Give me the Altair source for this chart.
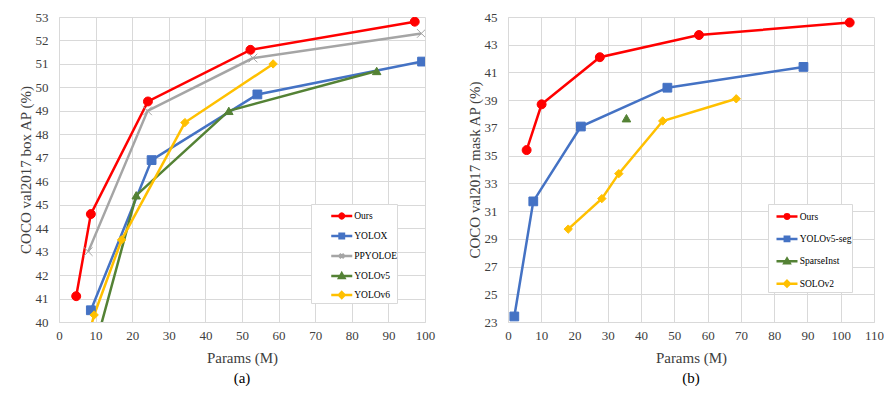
import altair as alt
import pandas as pd

FONT = "Liberation Serif"

# ---------------- (a) box AP ----------------
a_models = ["Ours", "YOLOX", "PPYOLOE", "YOLOv5", "YOLOv6"]
a_colors = ["#FF0000", "#4472C4", "#A5A5A5", "#548235", "#FFC000"]

ours_a_params = [4.7, 8.7, 24.3, 52.3, 97.2]
ours_a_ap = [41.1, 44.6, 49.4, 51.6, 52.8]
yolox_params = [8.7, 25.3, 54.2, 99.2]
yolox_ap = [40.5, 46.9, 49.7, 51.1]
ppyoloe_params = [8.0, 24.2, 53.0, 99.0]
ppyoloe_ap = [43.0, 49.0, 51.25, 52.3]
yolov5_params = [7.2, 21.1, 46.4, 86.8]
yolov5_ap = [37.4, 45.4, 49.0, 50.7]
yolov6_params = [4.7, 9.6, 17.1, 34.4, 58.5]
yolov6_ap = [37.5, 40.3, 43.5, 48.5, 51.0]

# ---------------- (b) mask AP ----------------
b_models = ["Ours", "YOLOv5-seg", "SparseInst", "SOLOv2"]
b_colors = ["#FF0000", "#4472C4", "#548235", "#FFC000"]

ours_b_params = [5.6, 10.1, 27.6, 57.4, 102.7]
ours_b_ap = [35.4, 38.7, 42.1, 43.7, 44.6]
yolov5seg_params = [1.9, 7.6, 21.9, 47.9, 88.8]
yolov5seg_ap = [23.4, 31.7, 37.1, 39.9, 41.4]
sparseinst_params = [35.6]
sparseinst_ap = [37.7]
solov2_params = [18.1, 28.2, 33.3, 46.5, 68.6]
solov2_ap = [29.7, 31.9, 33.7, 37.5, 39.1]


def long_df(names, params_list, ap_list):
    rows = []
    for name, ps, aps in zip(names, params_list, ap_list):
        for p, a in zip(ps, aps):
            rows.append({"model": name, "params": p, "ap": a})
    return pd.DataFrame(rows)


df_a = long_df(a_models,
               [ours_a_params, yolox_params, ppyoloe_params, yolov5_params, yolov6_params],
               [ours_a_ap, yolox_ap, ppyoloe_ap, yolov5_ap, yolov6_ap])
df_b = long_df(b_models,
               [ours_b_params, yolov5seg_params, sparseinst_params, solov2_params],
               [ours_b_ap, yolov5seg_ap, sparseinst_ap, solov2_ap])

X_PATH = "M-1,-1L1,1M-1,1L1,-1"


def marker(kind, cx, r):
    if kind == "circle":
        return (f"M{cx + r:.3f},0A{r:.3f},{r:.3f} 0 1,1 {cx - r:.3f},0"
                f"A{r:.3f},{r:.3f} 0 1,1 {cx + r:.3f},0Z")
    if kind == "square":
        return f"M{cx - r:.3f},{-r:.3f}H{cx + r:.3f}V{r:.3f}H{cx - r:.3f}Z"
    if kind == "x":
        return f"M{cx - r:.3f},{-r:.3f}L{cx + r:.3f},{r:.3f}M{cx - r:.3f},{r:.3f}L{cx + r:.3f},{-r:.3f}"
    if kind == "triangle":
        return f"M{cx:.3f},{-1.2 * r:.3f}L{cx + 1.2 * r:.3f},{0.9 * r:.3f}L{cx - 1.2 * r:.3f},{0.9 * r:.3f}Z"
    if kind == "diamond":
        return f"M{cx:.3f},{-1.3 * r:.3f}L{cx + 1.3 * r:.3f},0L{cx:.3f},{1.3 * r:.3f}L{cx - 1.3 * r:.3f},0Z"


def legend_paths(kinds, sym_px, start_px, length_px, r_px):
    # coordinates in legend-symbol units (1 unit = sym_px / 2 pixels), relative to symbol centre
    u = sym_px / 2
    x0 = (start_px - u) / u
    x1 = (start_px + length_px - u) / u
    cx = (x0 + x1) / 2
    return [f"M{x0:.3f},0H{x1:.3f}" + marker(k, cx, r_px / u) for k in kinds]


shape_map = {"circle": "circle", "square": "square", "x": X_PATH,
             "triangle": "triangle-up", "diamond": "diamond"}
size_map = {"circle": 80, "square": 70, "x": 36, "triangle": 75, "diamond": 70}
sw_map = {"circle": 1, "square": 1, "x": 2, "triangle": 1, "diamond": 1}


def panel(df, models, colors, kinds, xmax, ymin, ymax, ystep, ytitle, caption,
          lx, ly, sym_px, line_start, label_offset, row_padding, label_pad):
    xs = alt.Scale(domain=[0, xmax], nice=False, zero=False)
    ys = alt.Scale(domain=[ymin, ymax], nice=False, zero=False)
    x = alt.X("params:Q", scale=xs,
              axis=alt.Axis(values=list(range(0, xmax + 1, 10)), title="Params (M)",
                            labelPadding=7, titlePadding=8, labelFlush=False))
    y = alt.Y("ap:Q", scale=ys,
              axis=alt.Axis(values=list(range(ymin, ymax + 1, ystep)), title=ytitle,
                            labelPadding=11, titlePadding=2, labelFlush=False))
    cscale = alt.Scale(domain=models, range=colors)

    lines = alt.Chart(df).mark_line(strokeWidth=2.5, clip=True).encode(
        x=x, y=y, color=alt.Color("model:N", scale=cscale, legend=None))

    pts = alt.Chart(df).mark_point(filled=True, opacity=1, clip=True).encode(
        x=x, y=y,
        color=alt.Color("model:N", scale=cscale, legend=None),
        stroke=alt.Stroke("model:N", scale=cscale, legend=None),
        shape=alt.Shape("model:N", scale=alt.Scale(domain=models, range=[shape_map[k] for k in kinds]), legend=None),
        size=alt.Size("model:N", scale=alt.Scale(domain=models, range=[size_map[k] for k in kinds]), legend=None),
        strokeWidth=alt.StrokeWidth("model:N", scale=alt.Scale(domain=models, range=[sw_map[k] for k in kinds]), legend=None),
    )

    lpath = legend_paths(kinds, sym_px, line_start, 21, 2.2)
    leg = alt.Legend(title=None, orient="none", legendX=lx, legendY=ly,
                     labelFont=FONT, labelFontSize=9.5, labelColor="#000000",
                     symbolSize=sym_px * sym_px, symbolStrokeWidth=2.5,
                     labelOffset=label_offset, rowPadding=row_padding, padding=0,
                     fillColor="#FFFFFF", strokeColor="#D9D9D9", cornerRadius=0,
                     labelExpr="datum.label + '" + "\u00a0" * label_pad + "'")
    legend_layer = alt.Chart(df).transform_filter("datum.params < 0").mark_point(
        filled=True, opacity=1, strokeWidth=2.5).encode(
        x=x, y=y,
        color=alt.Color("model:N", scale=cscale, legend=leg),
        stroke=alt.Stroke("model:N", scale=cscale, legend=leg),
        shape=alt.Shape("model:N", scale=alt.Scale(domain=models, range=lpath), legend=leg),
    )

    return alt.layer(lines, pts, legend_layer).resolve_scale(
        color="independent", stroke="independent", shape="independent",
        size="independent", strokeWidth="independent"
    ).properties(
        width=366, height=305,
        title=alt.TitleParams(caption, orient="bottom", fontSize=15, font=FONT,
                              fontWeight="normal", color="#000000", offset=6),
    )


kinds_a = ["circle", "square", "x", "triangle", "diamond"]
kinds_b = ["circle", "square", "triangle", "diamond"]

left = panel(df_a, a_models, a_colors, kinds_a, 100, 40, 53, 1,
             "COCO val2017 box AP (%)", "(a)", 252, 187,
             21.5, 19, 19.2, 0, 7)
right = panel(df_b, b_models, b_colors, kinds_b, 110, 23, 45, 2,
              "COCO val2017 mask AP (%)", "(b)", 260, 187,
              22, 7, 6.7, 2.4, 2)

chart = alt.hconcat(left, right, spacing=32).properties(
    padding={"left": 10, "top": 3, "right": 0, "bottom": 0}
).configure_view(strokeWidth=0).configure_axis(
    labelFont=FONT, titleFont=FONT, labelFontSize=13, titleFontSize=15,
    labelColor="#404040", titleColor="#404040", titleFontWeight="normal",
    grid=True, gridColor="#D9D9D9", domainColor="#D9D9D9", ticks=False,
)

chart.save("out.html", embed_options={"renderer": "svg", "actions": False})
